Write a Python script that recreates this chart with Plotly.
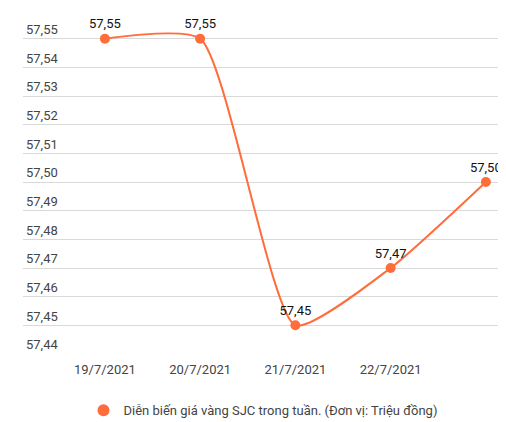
import plotly.graph_objects as go

dates = ['19/7/2021', '20/7/2021', '21/7/2021', '22/7/2021', '23/7/2021']
prices = [57.55, 57.55, 57.45, 57.47, 57.50]
series_name = 'Diễn biến giá vàng SJC trong tuần. (Đơn vị: Triệu đồng)'

orange = '#FF6D3A'
xs = list(range(len(dates)))

fig = go.Figure()
fig.add_trace(go.Scatter(
    x=xs, y=prices, name=series_name, showlegend=False,
    mode='lines+markers+text',
    line=dict(color=orange, width=2, shape='spline', smoothing=0.55),
    marker=dict(color=orange, size=10),
    text=[f'{p:.2f}'.replace('.', ',') for p in prices],
    textposition='top center',
    textfont=dict(color='#111', size=13, family='Roboto'),
    cliponaxis=False,
))
# legend entry: marker only
fig.add_trace(go.Scatter(
    x=[None], y=[None], name=series_name, mode='markers',
    marker=dict(color=orange, size=16),
))

fig.update_layout(
    width=506, height=422,
    margin=dict(l=15, r=11, t=2, b=76),
    paper_bgcolor='white', plot_bgcolor='white',
    separators=', ',
    font=dict(family='Roboto', color='#444', size=13),
    showlegend=True,
    legend=dict(orientation='h', x=0.5, xanchor='center', y=-0.12, yanchor='top',
                font=dict(size=13, color='#444'), itemsizing='constant'),
    xaxis=dict(tickvals=xs, ticktext=dates, automargin=False,
               range=[-0.86, 4.18], showgrid=False, zeroline=False,
               showline=False, ticks='', ticklabelstandoff=6),
    yaxis=dict(range=[57.44, 57.56], dtick=0.01, tickformat='.2f', automargin=False,
               ticklabelposition='inside top', gridcolor='#d9d9d9',
               zeroline=False, showline=False),
)
fig.add_annotation(text='...', x=0.0, y=-0.225, xref='paper', yref='paper',
                   xanchor='left', yanchor='top', showarrow=False,
                   font=dict(size=12, color='#444'))

fig.write_html('out.html')
